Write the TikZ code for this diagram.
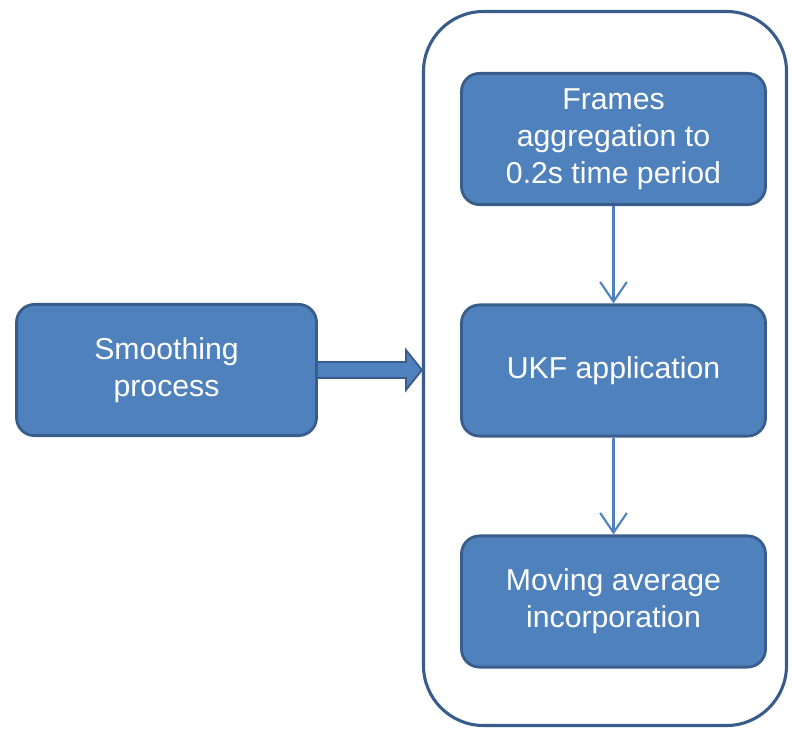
\documentclass[tikz,border=0pt]{standalone}
\usepackage{fontspec}
\setmainfont{Liberation Sans}
\usepackage{tikz}
\usetikzlibrary{calc,arrows.meta}

\definecolor{boxfill}{HTML}{4F81BD}
\definecolor{boxline}{HTML}{385D8A}

\begin{document}
\begin{tikzpicture}[every node/.style={draw=boxline,line width=2pt,fill=boxfill,rounded corners=0.45cm,
		text=white,align=center,font=\fontsize{21.5}{26.5}\selectfont,minimum width=7.6cm,minimum height=3.28cm},
		link/.style={draw=boxfill,line width=1.5pt,-{Straight Barb[length=14pt,width=19pt,line width=1.5pt]}}]
				\useasboundingbox (0,0) rectangle (19.8,-18.225);
				\node[draw=boxline,line width=2.2pt,fill=none,rounded corners=1.5cm,minimum width=9.075cm,minimum height=17.85cm] (box) at (15.125,-9.2125){};
				\node[minimum width=7.5cm] (smooth) at (4.1625,-9.25){Smoothing\\process};
				\node (frames) at (15.3375,-3.475){Frames\\aggregation to\\0.2s time period};
				\node (ukf) at (15.3375,-9.2625){UKF application};
				\node (avg) at (15.3375,-15.0375){Moving average\\incorporation};
				\draw[link] (frames)--(ukf);
				\draw[link] (ukf)--(avg);
				% block arrow into the frame
				\draw[draw=boxline,fill=boxfill,line width=1.3pt,line join=miter] let \p1=(smooth.east), \p2=(box.west) in
					(\x1,\y1+0.2cm) -- (\x2-0.4cm,\y1+0.2cm) -- (\x2-0.4cm,\y1+0.5cm) -- (\x2,\y1)
					-- (\x2-0.4cm,\y1-0.5cm) -- (\x2-0.4cm,\y1-0.2cm) -- (\x1,\y1-0.2cm);
			\end{tikzpicture}
\end{document}
